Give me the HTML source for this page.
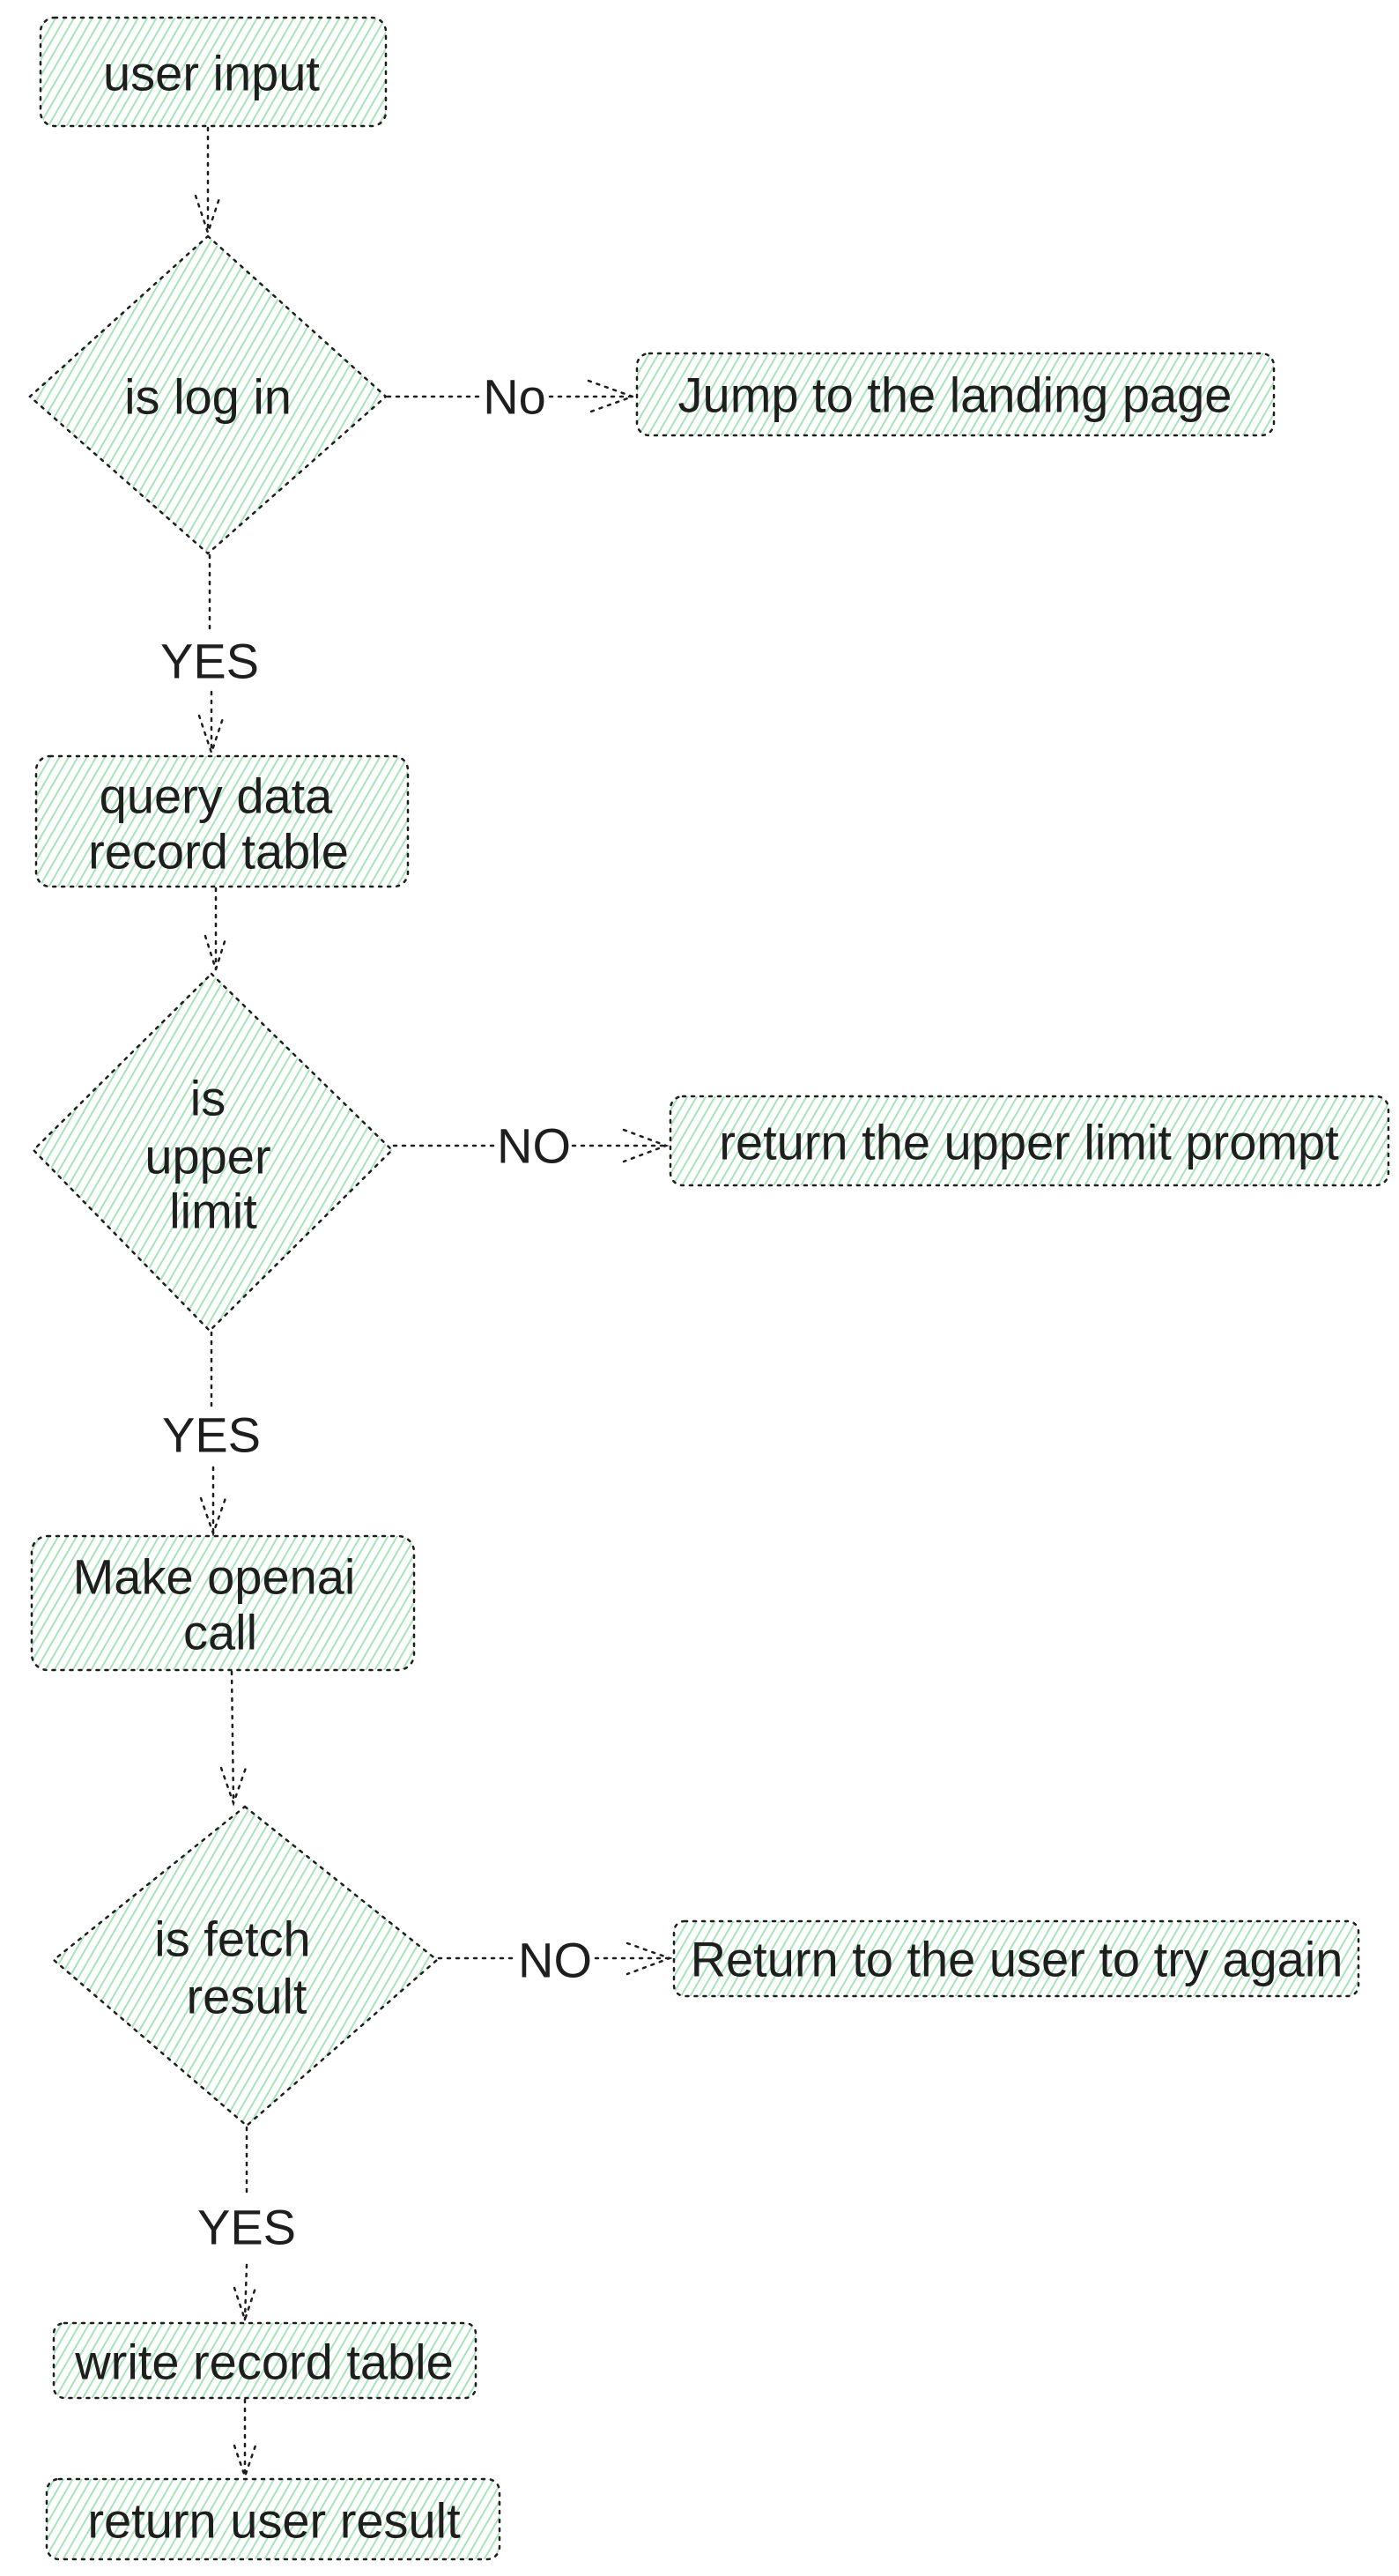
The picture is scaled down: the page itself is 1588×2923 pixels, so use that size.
<!DOCTYPE html>
<html><head><meta charset="utf-8"><style>
html,body{margin:0;padding:0;background:#fff;}
svg{display:block;}
text{font-family:"Liberation Sans",Arial,sans-serif;font-size:56px;fill:#1e1e1e;text-anchor:middle;dominant-baseline:central;}
.s{fill:url(#h);stroke:#1e1e1e;stroke-width:2.5;stroke-dasharray:3 7;stroke-linecap:round;}
.l{fill:none;stroke:#1e1e1e;stroke-width:2.5;stroke-dasharray:3 7;stroke-linecap:round;}
</style></head><body>
<svg width="1588" height="2923" viewBox="0 0 1588 2923" xmlns="http://www.w3.org/2000/svg">
<defs>
<pattern id="h" width="9" height="9" patternUnits="userSpaceOnUse" patternTransform="rotate(30)">
<rect width="9" height="9" fill="#fff"/>
<line x1="2" y1="0" x2="2" y2="9" stroke="#a8e4b8" stroke-width="2"/>
</pattern>
</defs>

<!-- user input -->
<rect class="s" x="46" y="20" width="392" height="123" rx="16"/>
<text x="240" y="83">user input</text>
<line class="l" x1="236" y1="145" x2="236" y2="264"/>
<polyline class="l" points="222,222 236,264 250,222"/>

<!-- diamond 1 -->
<polygon class="s" points="236,268 438,450 236,628 34,450"/>
<text x="236" y="450">is log in</text>
<line class="l" x1="440" y1="450" x2="545" y2="450"/>
<text x="584" y="450">No</text>
<line class="l" x1="624" y1="450" x2="718" y2="450"/>
<polyline class="l" points="668,432 718,450 668,468"/>
<rect class="s" x="723" y="401" width="723" height="93" rx="14"/>
<text x="1084" y="448">Jump to the landing page</text>

<line class="l" x1="238" y1="630" x2="238" y2="715"/>
<text x="238" y="750">YES</text>
<line class="l" x1="240" y1="785" x2="240" y2="854"/>
<polyline class="l" points="226,812 240,854 254,812"/>

<!-- query -->
<rect class="s" x="41" y="858" width="422" height="148" rx="16"/>
<text x="245" y="903">query data</text>
<text x="248" y="966">record table</text>
<line class="l" x1="245" y1="1008" x2="245" y2="1100"/>
<polyline class="l" points="233,1062 245,1100 257,1062"/>

<!-- diamond 2 -->
<polygon class="s" points="240,1105 445,1305 238,1510 38,1305"/>
<text x="236" y="1246">is</text>
<text x="236" y="1312">upper</text>
<text x="242" y="1374">limit</text>
<line class="l" x1="447" y1="1300" x2="562" y2="1300"/>
<text x="606" y="1300">NO</text>
<line class="l" x1="650" y1="1300" x2="756" y2="1300"/>
<polyline class="l" points="708,1282 756,1300 708,1318"/>
<rect class="s" x="761" y="1244" width="815" height="101" rx="14"/>
<text x="1168" y="1296">return the upper limit prompt</text>

<line class="l" x1="240" y1="1512" x2="240" y2="1595"/>
<text x="240" y="1628">YES</text>
<line class="l" x1="242" y1="1665" x2="242" y2="1740"/>
<polyline class="l" points="228,1700 242,1740 256,1700"/>

<!-- make openai -->
<rect class="s" x="36" y="1743" width="434" height="152" rx="18"/>
<text x="243" y="1789">Make openai</text>
<text x="250" y="1852">call</text>
<line class="l" x1="263" y1="1897" x2="265" y2="2046"/>
<polyline class="l" points="251,2006 265,2046 279,2006"/>

<!-- diamond 3 -->
<polygon class="s" points="278,2050 496,2224 280,2412 61,2224"/>
<text x="264" y="2200">is fetch</text>
<text x="280" y="2265">result</text>
<line class="l" x1="498" y1="2222" x2="586" y2="2222"/>
<text x="630" y="2224">NO</text>
<line class="l" x1="676" y1="2222" x2="760" y2="2222"/>
<polyline class="l" points="712,2205 760,2222 712,2240"/>
<rect class="s" x="765" y="2180" width="777" height="85" rx="12"/>
<text x="1154" y="2223">Return to the user to try again</text>

<line class="l" x1="280" y1="2414" x2="280" y2="2490"/>
<text x="280" y="2527">YES</text>
<line class="l" x1="280" y1="2570" x2="278" y2="2632"/>
<polyline class="l" points="266,2596 278,2632 290,2596"/>

<!-- write record table -->
<rect class="s" x="61" y="2636" width="479" height="85" rx="12"/>
<text x="300" y="2680">write record table</text>
<line class="l" x1="278" y1="2723" x2="278" y2="2810"/>
<polyline class="l" points="266,2775 278,2810 290,2775"/>

<!-- return user result -->
<rect class="s" x="53" y="2813" width="514" height="91" rx="14"/>
<text x="311" y="2860">return user result</text>
</svg>
</body></html>
